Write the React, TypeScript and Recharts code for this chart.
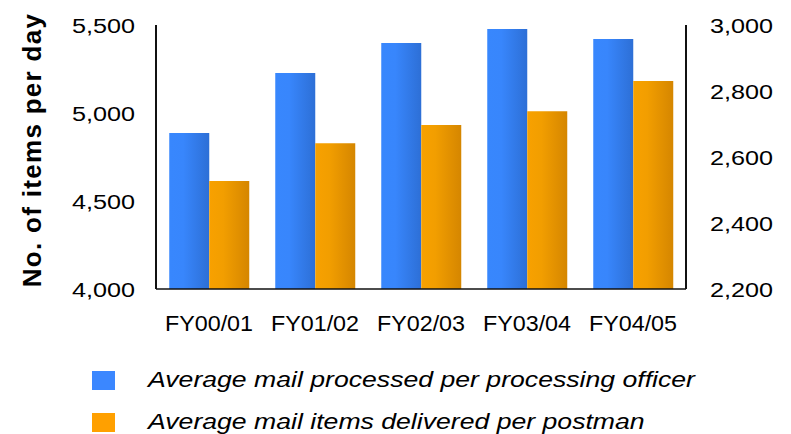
import React from 'react';
import { BarChart, Bar, XAxis, YAxis, Label } from 'recharts';

// Financial years shown on the category axis
const categories = ['FY00/01', 'FY01/02', 'FY02/03', 'FY03/04', 'FY04/05'];

// Average mail processed per processing officer (left axis)
const processedPerOfficer = [4886, 5227, 5398, 5477, 5420];

// Average mail items delivered per postman (right axis)
const deliveredPerPostman = [2527, 2642, 2697, 2739, 2830];

const leftTicks = [4000, 4500, 5000, 5500];
const rightTicks = [2200, 2400, 2600, 2800, 3000];

const seriesNames = [
  'Average mail processed per processing officer',
  'Average mail items delivered per postman',
];

const data = categories.map((name, i) => ({
  name,
  processed: processedPerOfficer[i],
  delivered: deliveredPerPostman[i],
}));

const FONT = '"Liberation Sans", Arial, sans-serif';
const fmt = (v: number) => v.toLocaleString('en-US');

const LeftTick = (props: any) => {
  const { x, y, payload } = props;
  return (
    <g transform={`translate(${x},${y})`}>
      <text transform="scale(1.2,1)" textAnchor="end" dy="0.36em" fontSize={21} fill="#000" fontFamily={FONT}>
        {fmt(payload.value)}
      </text>
    </g>
  );
};

const RightTick = (props: any) => {
  const { x, y, payload } = props;
  return (
    <g transform={`translate(${x},${y})`}>
      <text transform="scale(1.2,1)" textAnchor="start" dy="0.36em" fontSize={21} fill="#000" fontFamily={FONT}>
        {fmt(payload.value)}
      </text>
    </g>
  );
};

const BottomTick = (props: any) => {
  const { x, y, payload } = props;
  return (
    <g transform={`translate(${x},${y})`}>
      <text transform="scale(1.06,1)" textAnchor="middle" dy="0.71em" fontSize={22} fill="#000" fontFamily={FONT}>
        {payload.value}
      </text>
    </g>
  );
};

const AxisTitle = (props: any) => {
  const { viewBox } = props;
  const cx = 41;
  const cy = viewBox.y + viewBox.height / 2 - 7;
  return (
    <text
      x={cx}
      y={cy}
      transform={`rotate(-90, ${cx}, ${cy})`}
      textAnchor="middle"
      fontSize={26}
      fontWeight="bold"
      letterSpacing={1.3}
      fill="#000"
      fontFamily={FONT}
    >
      No. of items per day
    </text>
  );
};

const legendColors = ['#3b87ff', '#ffa000'];

export default function App() {
  return (
    <div style={{ position: 'absolute', left: 0, top: 0, width: 791, height: 434, background: '#fff' }}>
      <BarChart
        width={791}
        height={434}
        data={data}
        margin={{ top: 25, right: 0, bottom: 0, left: 0 }}
        barCategoryGap="12.5%"
        barGap={0}
      >
        <defs>
          <linearGradient id="gradBlue" x1="0" y1="0" x2="1" y2="0">
            <stop offset="0%" stopColor="#3887fd" />
            <stop offset="35%" stopColor="#3886fc" />
            <stop offset="100%" stopColor="#2d6fd6" />
          </linearGradient>
          <linearGradient id="gradOrange" x1="0" y1="0" x2="1" y2="0">
            <stop offset="0%" stopColor="#f8a100" />
            <stop offset="35%" stopColor="#f29e00" />
            <stop offset="100%" stopColor="#d58600" />
          </linearGradient>
        </defs>
        <XAxis
          dataKey="name"
          height={145}
          tickSize={0}
          tickMargin={26}
          tick={<BottomTick />}
          axisLine={{ stroke: '#111', strokeWidth: 1.5 }}
          tickLine={false}
          interval={0}
        />
        <YAxis
          yAxisId="left"
          orientation="left"
          width={156}
          domain={[4000, 5500]}
          ticks={leftTicks}
          tickSize={0}
          tickMargin={21}
          tick={<LeftTick />}
          axisLine={{ stroke: '#111', strokeWidth: 2 }}
          tickLine={false}
        >
          <Label content={<AxisTitle />} />
        </YAxis>
        <YAxis
          yAxisId="right"
          orientation="right"
          width={105}
          domain={[2200, 3000]}
          ticks={rightTicks}
          tickSize={0}
          tickMargin={24}
          tick={<RightTick />}
          axisLine={{ stroke: '#111', strokeWidth: 2 }}
          tickLine={false}
        />
        <Bar
          yAxisId="left"
          dataKey="processed"
          name={seriesNames[0]}
          fill="url(#gradBlue)"
          isAnimationActive={false}
        />
        <Bar
          yAxisId="right"
          dataKey="delivered"
          name={seriesNames[1]}
          fill="url(#gradOrange)"
          isAnimationActive={false}
        />
      </BarChart>
      {seriesNames.map((label, i) => (
        <div
          key={label}
          style={{ position: 'absolute', left: 92, top: 371 + i * 42, height: 19, width: 680 }}
        >
          <div style={{ position: 'absolute', left: 0, top: 0, width: 23, height: 19, background: legendColors[i] }} />
          <div
            style={{
              position: 'absolute',
              left: 56,
              top: -2,
              fontFamily: FONT,
              fontStyle: 'italic',
              fontSize: 22,
              lineHeight: '22px',
              color: '#000',
              whiteSpace: 'nowrap',
              transform: 'scaleX(1.21)',
              transformOrigin: 'left center',
            }}
          >
            {label}
          </div>
        </div>
      ))}
    </div>
  );
}
